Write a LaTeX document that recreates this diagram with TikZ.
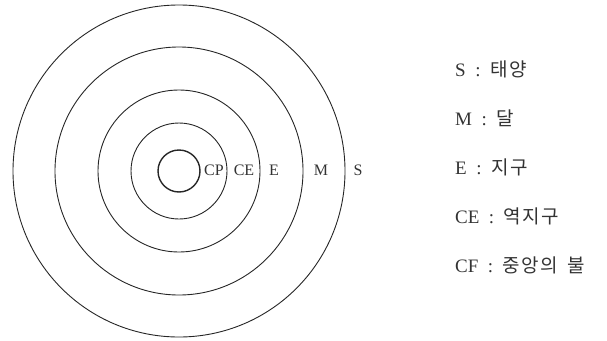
\documentclass[tikz,border=0pt]{standalone}
\usepackage{fontspec}
\setmainfont{Liberation Serif}
\newfontfamily\kr{Noto Sans CJK KR}[LetterSpace=8]
\usetikzlibrary{positioning}

\begin{document}
\begin{tikzpicture}[
  x=1pt, y=-1pt,
  orbit/.style={draw=black!85, line width=0.9pt},
  lbl/.style={inner sep=0pt, text=black!80, font=\fontsize{16}{16}\selectfont},
  legend/.style={anchor=west, inner sep=0pt, text=black!80, font=\fontsize{19}{19}\selectfont},
]
\newcommand{\hangul}[1]{{\kr\fontsize{19}{19}\selectfont #1}}
\useasboundingbox (0,0) rectangle (607,340);
% orbits
\coordinate (c) at (179,171);
\draw[orbit] (c) circle[radius=166];
\draw[orbit] (c) circle[radius=124];
\draw[orbit] (c) circle[radius=81];
\draw[orbit] (c) circle[radius=48];
\draw[orbit, line width=1.4pt] (c) circle[radius=21];

% labels on the orbits
\node[lbl] (cf) at (214,170) {CP};
\node[lbl] (ce) at (244,170) {CE};
\node[lbl] (e) at (274,170) {E};
\node[lbl] (m) at (321,170) {M};
\node[lbl] (s) at (358,170) {S};

% legend
\node[legend] (ls) at (455,69) {S\enspace:\enspace\hangul{태양}};
\node[legend, below=49pt of ls.west, anchor=west] (lm) {M\enspace:\enspace\hangul{달}};
\node[legend, below=49pt of lm.west, anchor=west] (le) {E\enspace:\enspace\hangul{지구}};
\node[legend, below=49pt of le.west, anchor=west] (lce) {CE\enspace:\enspace\hangul{역지구}};
\node[legend, below=49pt of lce.west, anchor=west] (lcf) {CF\enspace:\enspace\hangul{중앙의 \,불}};
\end{tikzpicture}
\end{document}
